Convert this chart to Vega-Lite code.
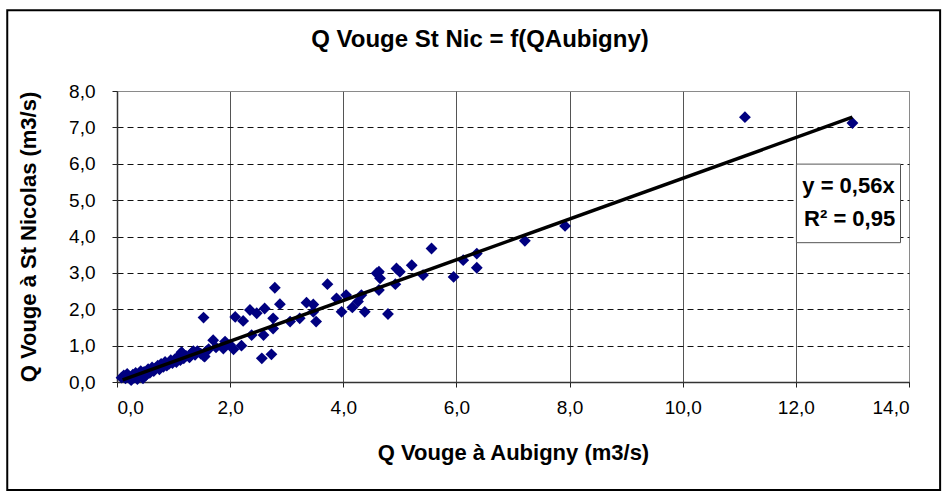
{
  "$schema": "https://vega.github.io/schema/vega-lite/v6.json",
  "width": 792,
  "height": 291,
  "autosize": {"type": "none"},
  "padding": {"left": 117, "top": 91, "right": 35, "bottom": 110},
  "background": "white",
  "title": {
    "text": "Q Vouge St Nic = f(QAubigny)",
    "font": "Liberation Sans",
    "fontSize": 24,
    "fontWeight": "bold",
    "color": "black",
    "anchor": "middle",
    "dx": -33,
    "offset": -43
  },
  "config": {
    "view": {"stroke": "#8a8a8a", "strokeWidth": 1},
    "axis": {
      "labelFont": "Liberation Sans",
      "labelFontSize": 19,
      "labelColor": "black",
      "labelOverlap": false,
      "titleFont": "Liberation Sans",
      "titleFontSize": 22,
      "titleFontWeight": "bold",
      "titleColor": "black",
      "tickColor": "#222",
      "tickSize": 5,
      "domainColor": "#333",
      "domainWidth": 1.5
    }
  },
  "datasets": {
    "points": [
      {"qa": 0.08, "qs": 0.12}, {"qa": 0.12, "qs": 0.18}, {"qa": 0.15, "qs": 0.1}, {"qa": 0.18, "qs": 0.22},
      {"qa": 0.22, "qs": 0.15}, {"qa": 0.25, "qs": 0.05}, {"qa": 0.28, "qs": 0.2}, {"qa": 0.3, "qs": 0.12},
      {"qa": 0.33, "qs": 0.25}, {"qa": 0.36, "qs": 0.08}, {"qa": 0.4, "qs": 0.22}, {"qa": 0.42, "qs": 0.3},
      {"qa": 0.46, "qs": 0.1}, {"qa": 0.48, "qs": 0.28}, {"qa": 0.52, "qs": 0.2}, {"qa": 0.55, "qs": 0.35},
      {"qa": 0.58, "qs": 0.25}, {"qa": 0.62, "qs": 0.4}, {"qa": 0.65, "qs": 0.3}, {"qa": 0.68, "qs": 0.38},
      {"qa": 0.72, "qs": 0.45}, {"qa": 0.75, "qs": 0.35}, {"qa": 0.78, "qs": 0.5}, {"qa": 0.82, "qs": 0.42},
      {"qa": 0.85, "qs": 0.55}, {"qa": 0.88, "qs": 0.45}, {"qa": 0.92, "qs": 0.5}, {"qa": 0.95, "qs": 0.6},
      {"qa": 0.98, "qs": 0.52}, {"qa": 1.02, "qs": 0.62}, {"qa": 1.05, "qs": 0.55}, {"qa": 1.08, "qs": 0.7},
      {"qa": 1.12, "qs": 0.6}, {"qa": 1.15, "qs": 0.8}, {"qa": 1.18, "qs": 0.65}, {"qa": 1.22, "qs": 0.72},
      {"qa": 1.28, "qs": 0.68}, {"qa": 1.32, "qs": 0.8}, {"qa": 1.38, "qs": 0.75}, {"qa": 1.42, "qs": 0.85},
      {"qa": 1.48, "qs": 0.78}, {"qa": 1.55, "qs": 0.7}, {"qa": 1.58, "qs": 0.85}, {"qa": 1.35, "qs": 0.85},
      {"qa": 1.14, "qs": 0.82}, {"qa": 1.05, "qs": 0.6}, {"qa": 1.29, "qs": 0.7},
      {"qa": 1.53, "qs": 1.77}, {"qa": 1.7, "qs": 1.15}, {"qa": 1.88, "qs": 0.92}, {"qa": 1.91, "qs": 1.11},
      {"qa": 2.06, "qs": 0.9}, {"qa": 2.0, "qs": 1.02}, {"qa": 1.53, "qs": 0.72}, {"qa": 1.75, "qs": 0.95},
      {"qa": 2.09, "qs": 1.79}, {"qa": 2.23, "qs": 1.68}, {"qa": 2.35, "qs": 1.98}, {"qa": 2.47, "qs": 1.89},
      {"qa": 2.61, "qs": 2.02}, {"qa": 2.79, "qs": 2.59}, {"qa": 2.88, "qs": 2.14}, {"qa": 2.76, "qs": 1.75},
      {"qa": 3.06, "qs": 1.66}, {"qa": 3.23, "qs": 1.75}, {"qa": 3.35, "qs": 2.18}, {"qa": 3.47, "qs": 2.13},
      {"qa": 3.52, "qs": 1.66}, {"qa": 3.47, "qs": 1.93}, {"qa": 3.72, "qs": 2.69}, {"qa": 3.88, "qs": 2.3},
      {"qa": 4.05, "qs": 2.39}, {"qa": 3.97, "qs": 1.93}, {"qa": 4.16, "qs": 2.05}, {"qa": 4.26, "qs": 2.21},
      {"qa": 4.32, "qs": 2.39}, {"qa": 4.38, "qs": 1.93}, {"qa": 4.59, "qs": 2.99}, {"qa": 4.63, "qs": 3.03},
      {"qa": 4.65, "qs": 2.85}, {"qa": 4.63, "qs": 2.53}, {"qa": 4.79, "qs": 1.87}, {"qa": 4.92, "qs": 2.69},
      {"qa": 4.94, "qs": 3.12}, {"qa": 5.0, "qs": 3.03}, {"qa": 5.21, "qs": 3.21}, {"qa": 5.41, "qs": 2.94},
      {"qa": 5.56, "qs": 3.67}, {"qa": 5.95, "qs": 2.89}, {"qa": 6.12, "qs": 3.35}, {"qa": 6.36, "qs": 3.53},
      {"qa": 6.36, "qs": 3.14}, {"qa": 7.21, "qs": 3.88}, {"qa": 7.92, "qs": 4.29}, {"qa": 11.1, "qs": 7.28},
      {"qa": 13.0, "qs": 7.12}, {"qa": 2.38, "qs": 1.29}, {"qa": 2.59, "qs": 1.29}, {"qa": 2.76, "qs": 1.47},
      {"qa": 2.56, "qs": 0.65}, {"qa": 2.73, "qs": 0.76}, {"qa": 2.2, "qs": 1.0}, {"qa": 1.62, "qs": 0.9}
    ],
    "trend": [{"qa": 0.1, "qs": 0.056}, {"qa": 13.0, "qs": 7.28}]
  },
  "layer": [
    {
      "data": {"name": "points"},
      "mark": {"type": "point", "shape": "diamond", "filled": true, "color": "#000080", "size": 140, "opacity": 1},
      "encoding": {
        "x": {
          "field": "qa", "type": "quantitative",
          "scale": {"domain": [0, 14], "nice": false},
          "axis": {
            "title": "Q Vouge à Aubigny (m3/s)",
            "values": [0, 2, 4, 6, 8, 10, 12, 14],
            "tickCount": 20,
            "labelExpr": "replace(format(datum.value, '.1f'), '.', ',')",
            "labelPadding": 11,
            "titlePadding": 25,
            "grid": true,
            "gridColor": {"condition": {"test": "datum.value == 14", "value": "#8a8a8a"}, "value": "#555555"},
            "gridWidth": 1
          }
        },
        "y": {
          "field": "qs", "type": "quantitative",
          "scale": {"domain": [0, 8], "nice": false},
          "axis": {
            "title": "Q Vouge à St Nicolas (m3/s)",
            "values": [0, 1, 2, 3, 4, 5, 6, 7, 8],
            "tickCount": 20,
            "labelExpr": "replace(format(datum.value, '.1f'), '.', ',')",
            "labelPadding": 17,
            "titlePadding": 28,
            "grid": true,
            "gridColor": {"condition": {"test": "datum.value == 8", "value": "#8a8a8a"}, "value": "#111111"},
            "gridDash": [6, 4],
            "gridWidth": 1
          }
        }
      }
    },
    {
      "data": {"values": [{}]},
      "mark": {"type": "rect", "fill": null, "stroke": "black", "strokeWidth": 2, "clip": false},
      "encoding": {
        "x": {"datum": -1.94, "type": "quantitative"},
        "x2": {"datum": 14.55},
        "y": {"datum": 10.22, "type": "quantitative"},
        "y2": {"datum": -2.97}
      }
    },
    {
      "data": {"name": "trend"},
      "mark": {"type": "line", "color": "black", "strokeWidth": 3.5},
      "encoding": {
        "x": {"field": "qa", "type": "quantitative"},
        "y": {"field": "qs", "type": "quantitative"}
      }
    },
    {
      "data": {"values": [{}]},
      "mark": {"type": "rect", "fill": "white", "stroke": "#555555", "strokeWidth": 1},
      "encoding": {
        "x": {"datum": 12.01, "type": "quantitative"},
        "x2": {"datum": 13.85},
        "y": {"datum": 5.99, "type": "quantitative"},
        "y2": {"datum": 3.83}
      }
    },
    {
      "data": {"values": [{"label": "y = 0,56x", "lx": 12.93, "ly": 5.38}, {"label": "R² = 0,95", "lx": 12.95, "ly": 4.47}]},
      "mark": {"type": "text", "font": "Liberation Sans", "fontSize": 22, "fontWeight": "bold", "color": "black", "align": "center", "baseline": "middle"},
      "encoding": {
        "x": {"field": "lx", "type": "quantitative"},
        "y": {"field": "ly", "type": "quantitative"},
        "text": {"field": "label"}
      }
    }
  ]
}
